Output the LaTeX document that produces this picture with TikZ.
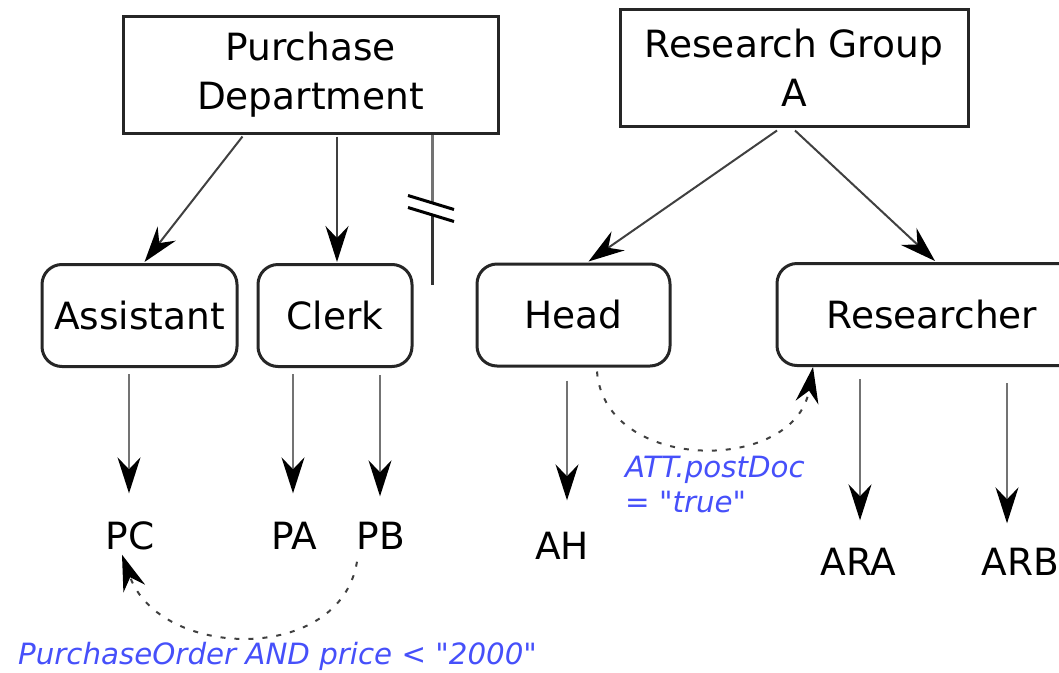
\documentclass[tikz,border=0pt]{standalone}
\usepackage{fontspec}
\setmainfont{DejaVu Sans}
% straight quotes in the condition labels
\newfontfamily\condfont{DejaVu Sans}[Ligatures=TeXOff]
\usetikzlibrary{arrows.meta,calc}
\definecolor{condblue}{RGB}{70,80,250}
\begin{document}
\begin{tikzpicture}[x=1pt,y=-1pt,
  every node/.style={inner sep=0pt, font=\fontsize{37.5}{49}\selectfont},
  orgbox/.style={draw=black!85, line width=3pt, minimum height=117pt, align=center},
  rolebox/.style={draw=black!85, line width=3pt, rounded corners=20pt,
    minimum height=102pt, text height=27pt, text depth=0pt},
  leafnode/.style={text height=27pt, text depth=0pt},
  headtip/.style={-{Stealth[length=36pt,width=23pt,inset=12pt,color=black]}},
  vlink/.style={headtip, draw=black!55, line width=2pt},
  dlink/.style={headtip, draw=black!75, line width=2pt},
  clink/.style={headtip, draw=black!75, line width=2pt, dash pattern=on 5pt off 9pt},
  condtext/.style={text=condblue, font=\condfont\fontsize{29.3}{35}\selectfont\itshape}
]
\useasboundingbox (0,0) rectangle (1059,672);
\clip (0,0) rectangle (1059,672);

% organisational units
\node[orgbox, minimum width=375pt] (pd) at (310.5,74.5) {Purchase\\Department};
\node[orgbox, minimum width=348pt] (rg) at (794,67.5) {Research Group\\A};

% roles
\node[rolebox, minimum width=195pt] (asst) at (139.5,315.5) {Assistant};
\node[rolebox, minimum width=154pt] (clerk) at (335,315.5) {Clerk};
\node[rolebox, minimum width=193pt] (head) at (573.5,315) {Head};
\node[rolebox, minimum width=310pt] (res) at (932,314.5) {Researcher};

% principals
\node[leafnode] (pc) at (130,536) {PC};
\node[leafnode] (pa) at (294,536) {PA};
\node[leafnode] (pb) at (381,536) {PB};
\node[leafnode] (ah) at (562,546) {AH};
\node[leafnode] (ara) at (858.5,562) {ARA};
\node[leafnode] (arb) at (1020.5,562) {ARB};

% unit -> role
\draw[dlink] ($(pd.south)+(-68,2)$) -- ($(asst.north)+(5,-1)$);
\draw[dlink] ($(clerk.north |- pd.south)+(2,2)$) -- ($(clerk.north)+(2,-1)$);
\draw[dlink] ($(rg.south)+(-17,3)$) -- ($(head.north)+(15,-1)$);
\draw[dlink] ($(rg.south)+(1,3)$) -- ($(res.north)+(3,-1)$);

% interrupted link
\coordinate (cutA) at ($(pd.south)+(121.5,0)$);
\coordinate (cutB) at ($(cutA)+(0,68)$);
\coordinate (cutC) at ($(cutA)+(0,80)$);
\coordinate (cutD) at ($(cutA)+(0,150)$);
\draw[black!55, line width=3pt] (cutA) -- (cutB);
\draw[black!80, line width=3pt] (cutC) -- (cutD);
\draw[black, line width=3pt] ($(cutB)+(-24,-7)$) -- ($(cutB)+(22,7)$);
\draw[black, line width=3pt] ($(cutC)+(-24,-7)$) -- ($(cutC)+(22,7)$);

% role -> principal
\draw[vlink] ($(pc |- asst.south)+(-1,6)$) -- ($(pc.north)+(-1,-29)$);
\draw[vlink] ($(pa |- clerk.south)+(-1,6)$) -- ($(pa.north)+(-1,-29)$);
\draw[vlink] ($(pb |- clerk.south)+(-1,7)$) -- ($(pb.north)+(-1,-26)$);
\draw[vlink] ($(ah |- head.south)+(5,13)$) -- ($(ah.north)+(5,-32)$);
\draw[vlink] ($(ara |- res.south)+(1.5,12)$) -- ($(ara.north)+(1.5,-28)$);
\draw[vlink] ($(arb |- res.south)+(-13.5,16)$) -- ($(arb.north)+(-13.5,-25)$);

% conditional delegations
\draw[clink] ($(pb.south)+(-24,12)$) .. controls +(-17,103) and +(38,105) .. ($(pc.south)+(-8,5)$);
\draw[clink] ($(head.south)+(23.5,4)$) .. controls +(8,102) and +(-18,107) .. ($(res.south)+(-119,0)$);

\node[condtext, anchor=north west, align=left] (attlbl) at (625,456) {ATT.postDoc\\= "true"};
\node[condtext, anchor=base west] (polbl) at (18,664) {PurchaseOrder AND price < "2000"};
\end{tikzpicture}
\end{document}
